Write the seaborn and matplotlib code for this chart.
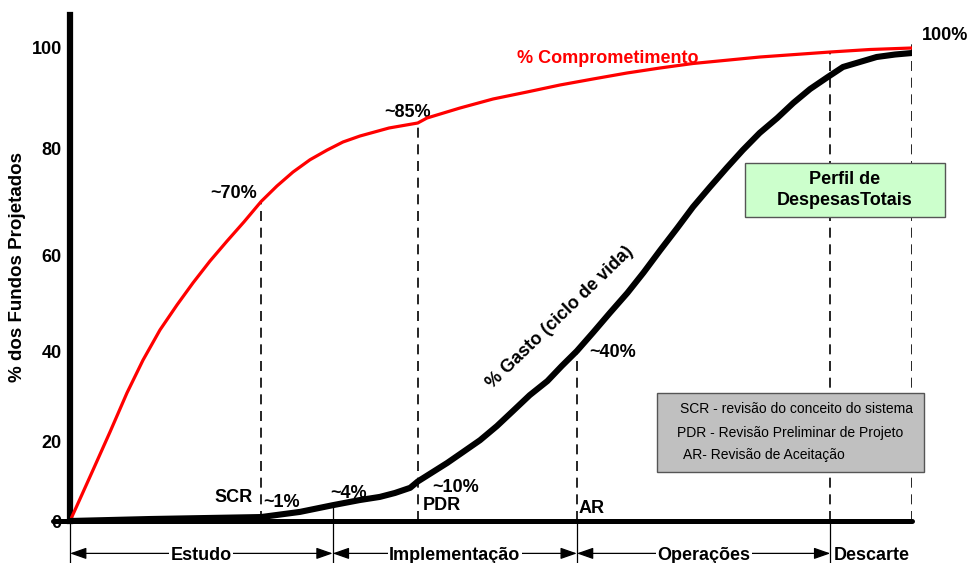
import numpy as np
import matplotlib
matplotlib.use("Agg")
import matplotlib.pyplot as plt
from matplotlib.patches import Rectangle
import seaborn as sns

# ---------------- data ----------------
# lifecycle timeline, 0 = programme start, 100 = end of disposal
phase_names = ["Estudo", "Implementação", "Operações", "Descarte"]
phase_bounds = [0.0, 31.2, 60.2, 90.3, 100.0]

review_names = ["SCR", "PDR", "AR"]
review_x = [22.7, 41.3, 60.2]

# % of funds committed
commit_x = [0.0, 1.19, 2.73, 4.75, 6.77, 8.67, 10.69, 12.71, 14.61, 16.63,
            18.65, 20.67, 22.7, 24.58, 26.48, 28.50, 30.52, 32.42, 34.44,
            37.89, 41.3, 42.40, 46.32, 50.24, 54.28, 58.19, 62.11, 66.15,
            70.07, 73.99, 81.95, 90.3, 95.01, 100.0]
commit_y = [0.0, 5.6, 12.9, 22.2, 30.8, 38.0, 44.4, 49.6, 54.2, 58.75,
            62.6, 66.2, 70.0, 72.9, 75.5, 77.8, 79.6, 81.2, 82.4,
            84.0, 85.0, 86.0, 88.0, 89.8, 91.2, 92.6, 93.8, 95.0,
            96.0, 96.9, 98.2, 99.2, 99.7, 100.0]

# % of funds spent (life-cycle cost)
spend_x = [0.0, 9.5, 22.7, 27.3, 31.2, 34.4, 36.8, 38.6, 40.4, 41.3, 44.8,
           46.7, 48.7, 50.7, 52.6, 54.6, 56.7, 58.4, 60.2, 62.1, 64.1, 66.2,
           68.1, 70.1, 72.1, 74.0, 76.0, 78.0, 79.9, 81.9, 84.0, 85.9, 87.9,
           90.0, 91.8, 93.8, 95.8, 98.0, 100.0]
spend_y = [0.0, 0.5, 1.0, 2.3, 4.0, 5.3, 6.1, 7.1, 8.4, 10.0, 14.7,
           17.5, 20.4, 23.5, 26.8, 30.3, 33.4, 36.7, 40.0, 43.8, 47.9, 52.1,
           56.3, 60.9, 65.0, 69.0, 72.7, 76.3, 79.6, 83.0, 86.0, 89.0, 91.8,
           94.2, 96.2, 97.2, 98.2, 98.7, 99.0]

y_ticks = [0, 20, 40, 60, 80, 100]

legend_lines = ["SCR - revisão do conceito do sistema",
                "PDR - Revisão Preliminar de Projeto",
                "AR- Revisão de Aceitação"]

# ---------------- style ----------------
sns.set_theme(style="white")
plt.rcParams["font.family"] = ["Liberation Sans", "DejaVu Sans"]
plt.rcParams.update({"text.color": "black", "axes.labelcolor": "black",
                     "xtick.color": "black", "ytick.color": "black"})
FS = 13

fig = plt.figure(figsize=(9.69, 5.63), dpi=100)
ax = fig.add_axes([70 / 969, 42 / 563, 842 / 969, 506 / 563])

# piecewise-linear vertical scale (uneven spacing of the printed grid)
Y_KNOTS = [-100, 0, 20, 40, 60, 80, 100, 200]
Y_SPAN = [-395, 0, 79, 170, 266, 373, 473, 973]


def fwd(v):
    return np.interp(v, Y_KNOTS, Y_SPAN)


def inv(v):
    return np.interp(v, Y_SPAN, Y_KNOTS)


ax.set_yscale("function", functions=(fwd, inv))
ax.set_xlim(0, 100)
ax.set_ylim(0, 106.6)

# curves
sns.lineplot(x=commit_x, y=commit_y, ax=ax, color="#ff0000", lw=2.3,
             estimator=None, zorder=5)
sns.lineplot(x=spend_x, y=spend_y, ax=ax, color="black", lw=4.4,
             estimator=None, zorder=6, solid_capstyle="round",
             solid_joinstyle="round")

# axes styling
for s in ["top", "right", "bottom"]:
    ax.spines[s].set_visible(False)
ax.spines["left"].set_linewidth(4.5)
ax.spines["left"].set_color("black")
ax.set_xticks([])
ax.set_yticks(y_ticks)
ax.set_yticklabels([str(t) for t in y_ticks], fontsize=FS, fontweight="bold",
                   color="black")
ax.tick_params(axis="y", length=0, pad=6)
ax.set_ylabel("% dos Fundos Projetados", fontsize=13.5, fontweight="bold",
              color="black")
ax.yaxis.label.set_verticalalignment("center")
ax.yaxis.set_label_coords(-0.0618, 0.502)

# baseline
ax.plot([-2.0, 100.0], [0, 0], color="black", lw=3.6, clip_on=False,
        solid_capstyle="round", zorder=7)

# dashed review / phase markers
dash = dict(color="black", lw=1.2, linestyle=(0, (6, 4)), zorder=3)
top_commit = dict(zip(commit_x, commit_y))
top_spend = dict(zip(spend_x, spend_y))
ax.plot([review_x[0]] * 2, [0, top_commit[review_x[0]]], **dash)
ax.plot([review_x[1]] * 2, [0, top_commit[review_x[1]]], **dash)
ax.plot([review_x[2]] * 2, [0, top_spend[review_x[2]]], **dash)
ax.plot([phase_bounds[3]] * 2, [0, top_commit[phase_bounds[3]]], **dash)
ax.plot([phase_bounds[4]] * 2, [0, 102], **dash)

# thin solid phase boundaries below the axis
ARROW_Y = -8.2
TEXT_Y = -9.75
thin = dict(color="black", lw=0.9, clip_on=False, zorder=3)
for b in [phase_bounds[0], phase_bounds[2], phase_bounds[3]]:
    ax.plot([b, b], [0, -12], **thin)
ax.plot([phase_bounds[1]] * 2, [top_spend[phase_bounds[1]], -12], **thin)

# phase arrows with labels
for i, name in enumerate(phase_names):
    x0, x1 = phase_bounds[i], phase_bounds[i + 1]
    if name != "Descarte":
        ax.annotate("", xy=(x1, ARROW_Y), xytext=(x0, ARROW_Y),
                    annotation_clip=False,
                    arrowprops=dict(arrowstyle="<|-|>,head_length=1.0,head_width=0.35",
                                    mutation_scale=10, color="black", lw=0.9,
                                    shrinkA=0, shrinkB=0))
        ax.text((x0 + x1) / 2, TEXT_Y, name, ha="center", va="baseline",
                fontsize=FS, fontweight="bold", clip_on=False, zorder=8,
                color="black",
                bbox=dict(boxstyle="square,pad=0.08", fc="white", ec="none"))
    else:
        ax.text(x0 + 0.4, TEXT_Y, name, ha="left", va="baseline",
                fontsize=FS, fontweight="bold", clip_on=False, zorder=8,
                color="black")

# value / milestone labels
lab = dict(textcoords="offset points", fontsize=FS, fontweight="bold",
           va="center", annotation_clip=False, zorder=4, color="black")
ax.annotate("~70%", xy=(review_x[0], 70), xytext=(-3, 5.5), ha="right", **lab)
ax.annotate("~85%", xy=(review_x[1], 85), xytext=(-7, 7.5), ha="center", **lab)
ax.annotate("SCR", xy=(review_x[0], 0), xytext=(-5.8, 17), ha="right", **lab)
ax.annotate("~1%", xy=(review_x[0], 0), xytext=(1.4, 13), ha="left", **lab)
ax.annotate("~4%", xy=(phase_bounds[1], 4), xytext=(-2, 8.5), ha="left", **lab)
ax.annotate("~10%", xy=(review_x[1], 10), xytext=(10.8, -4), ha="left", **lab)
ax.annotate("PDR", xy=(review_x[1], 0), xytext=(3.6, 11.4), ha="left", **lab)
ax.annotate("AR", xy=(review_x[2], 0), xytext=(1.4, 9), ha="left", **lab)
ax.annotate("~40%", xy=(review_x[2], 40), xytext=(8.6, -1), ha="left", **lab)
ax.annotate("100%", xy=(100, 100), xytext=(7.2, 9), ha="left", **lab)

ax.text(63.9, 98.0, "% Comprometimento", color="#ff0000", fontsize=FS,
        fontweight="bold", ha="center", va="center", zorder=4)
ax.text(58.2, 46.9, "% Gasto (ciclo de vida)", color="black", fontsize=FS,
        fontweight="bold", ha="center", va="center", rotation=44,
        rotation_mode="anchor", zorder=4)

# review legend box
ax.add_patch(Rectangle((0.697, 0.0968), 0.317, 0.1562, transform=ax.transAxes,
                       fc="#c0c0c0", ec="#555555", lw=1.0, clip_on=False, zorder=9))
for (lx, ly), txt in zip([(0.7245, 0.2213), (0.7209, 0.1739), (0.728, 0.1304)],
                         legend_lines):
    ax.text(lx, ly, txt, transform=ax.transAxes, fontsize=10, ha="left",
            va="center", color="black", zorder=10)

# total spending profile box
ax.add_patch(Rectangle((0.8017, 0.601), 0.2373, 0.1065, transform=ax.transAxes,
                       fc="#ccffcc", ec="#555555", lw=1.0, clip_on=False, zorder=9))
ax.text(0.9204, 0.654, "Perfil de\nDespesasTotais", transform=ax.transAxes,
        fontsize=FS, fontweight="bold", ha="center", va="center",
        linespacing=1.3, zorder=10, color="black")

fig.savefig("out.png", dpi=100)
